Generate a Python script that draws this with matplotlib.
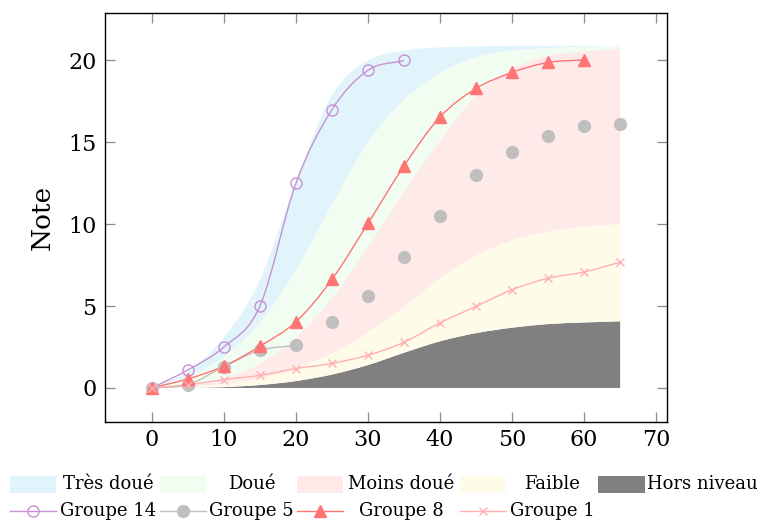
import numpy as np
import matplotlib
matplotlib.use("Agg")
import matplotlib.pyplot as plt
from matplotlib.path import Path
from matplotlib.patches import PathPatch, Rectangle
from matplotlib.lines import Line2D

plt.rcParams['font.family'] = ['DejaVu Serif']

# ---- data -------------------------------------------------------------
weeks = [0, 5, 10, 15, 20, 25, 30, 35, 40, 45, 50, 55, 60, 65]

# upper boundary of each reference band (bands are stacked from the bottom)
band_names = ["Hors niveau", "Faible", "Moins doué", "Doué", "Très doué"]
hors_niveau_top = [0, 0.01, 0.05, 0.18, 0.42, 0.82, 1.4, 2.15, 2.85, 3.35, 3.68, 3.9, 4.0, 4.07]
faible_top      = [0, 0.08, 0.25, 0.55, 1.2, 2.1, 3.4, 4.95, 6.7, 8.1, 9.0, 9.55, 9.85, 10.0]
moins_doue_top  = [0, 0.2, 0.6, 1.5, 3.1, 5.5, 8.6, 12.0, 15.1, 17.9, 19.5, 20.3, 20.55, 20.7]
doue_top        = [0, 0.65, 1.9, 4.0, 7.2, 11.2, 15.0, 17.6, 19.25, 20.2, 20.6, 20.75, 20.85, 20.9]
tres_doue_top   = [0, 1.0, 3.1, 6.6, 12.6, 17.9, 20.0, 20.6, 20.8, 20.85, 20.9, 20.9, 20.9, 20.9]

groupe14 = [0, 1.1, 2.5, 5.0, 12.5, 17.0, 19.4, 20.0]
groupe5 = [0, 0.2, 1.3, 2.3, 2.6, 4.0, 5.6, 8.0, 10.5, 13.0, 14.4, 15.4, 16.0, 16.1]
groupe5_joined = 5          # leading points of Groupe 5 that are joined by a line
groupe8 = [0, 0.55, 1.33, 2.55, 4.04, 6.63, 10.05, 13.56, 16.55, 18.29, 19.27, 19.88, 20.04]
groupe1 = [0, 0.2, 0.51, 0.77, 1.18, 1.5, 2.0, 2.79, 3.98, 4.98, 6.0, 6.7, 7.08, 7.68]

x_ticks = [0, 10, 20, 30, 40, 50, 60, 70]
y_ticks = [0, 5, 10, 15, 20]

# ---- styles -----------------------------------------------------------
band_colors = {
    "Très doué": "#e2f4fb",
    "Doué": "#f1fdf1",
    "Moins doué": "#ffeaea",
    "Faible": "#fffbe9",
    "Hors niveau": "#808080",
}
c14, c5, c8, c1 = "#c691d2", "#bfbfbf", "#ff7474", "#ffb0b0"


def smooth_codes_verts(x, y):
    """Cubic Bezier (Catmull-Rom style) through the given points."""
    p = np.column_stack([x, y]).astype(float)
    n = len(p)
    m = np.zeros_like(p)
    m[0] = p[1] - p[0]
    m[-1] = p[-1] - p[-2]
    m[1:-1] = (p[2:] - p[:-2]) / 2.0
    verts = [p[0]]
    codes = [Path.MOVETO]
    for i in range(n - 1):
        verts += [p[i] + m[i] / 3.0, p[i + 1] - m[i + 1] / 3.0, p[i + 1]]
        codes += [Path.CURVE4] * 3
    return np.array(verts), codes


def band_path(x, lower, upper):
    vu, cu = smooth_codes_verts(x, upper)
    vl, cl = smooth_codes_verts(x[::-1], lower[::-1])
    verts = np.vstack([vu, vl[0:1], vl[1:], vu[0:1]])
    codes = cu + [Path.LINETO] + cl[1:] + [Path.CLOSEPOLY]
    return Path(verts, codes)


def smooth_line(ax, x, y, color, lw=1.0, zorder=3):
    v, c = smooth_codes_verts(x, y)
    ax.add_patch(PathPatch(Path(v, c), facecolor="none", edgecolor=color,
                           lw=lw, zorder=zorder))


fig = plt.figure(figsize=(7.6, 5.21), dpi=100)
ax = fig.add_axes([105 / 760, 1 - 422 / 521, (667 - 105) / 760, (422 - 13) / 521])

x = np.array(weeks, dtype=float)
tops = [hors_niveau_top, faible_top, moins_doue_top, doue_top, tres_doue_top]
lower = np.zeros_like(x)
for name, top in zip(band_names, tops):
    upper = np.array(top, dtype=float)
    ax.add_patch(PathPatch(band_path(x, lower, upper), facecolor=band_colors[name],
                           edgecolor="none", zorder=1))
    lower = upper

# Groupe 14
x14 = x[:len(groupe14)]
smooth_line(ax, x14, groupe14, c14)
ax.plot(x14, groupe14, ls="none", marker="o", ms=8, mfc="none", mec=c14, mew=1.0, zorder=4)

# Groupe 5
smooth_line(ax, x[:groupe5_joined], groupe5[:groupe5_joined], c5)
ax.plot(x, groupe5, ls="none", marker="o", ms=8.5, mfc=c5, mec=c5, zorder=4)

# Groupe 8
x8 = x[:len(groupe8)]
smooth_line(ax, x8, groupe8, c8)
ax.plot(x8, groupe8, ls="none", marker="^", ms=8, mfc=c8, mec=c8, zorder=5)

# Groupe 1
smooth_line(ax, x, groupe1, c1)
ax.plot(x, groupe1, ls="none", marker="x", ms=6, mec=c1, mew=1.0, zorder=5)

ax.set_xlim(-6.5, 71.5)
ax.set_ylim(-2.08, 22.9)
ax.set_xticks(x_ticks)
ax.set_yticks(y_ticks)
ax.tick_params(direction="in", length=7.5, width=0.9, color="#8c8c8c",
               top=True, right=True, labelsize=16, pad=6)
ax.tick_params(axis="x", pad=5)
for s in ax.spines.values():
    s.set_linewidth(1.0)
ax.set_ylabel("Note", fontsize=19, labelpad=10)

# ---- legend (two rows, text centred in its cell) ----------------------
lg = fig.add_axes([0, 0, 1, 1], facecolor="none")
lg.set_xlim(0, 760)
lg.set_ylim(521, 0)
lg.axis("off")

handle_x = [(10, 56), (160, 206), (297, 343), (460, 506), (598, 645)]
text_cx = [108, 251.5, 401.5, 552, 702.5]
row1_y, row2_y = 484, 511
legend_fs = 13

row1 = ["Très doué", "Doué", "Moins doué", "Faible", "Hors niveau"]
for (x0, x1), cx, name in zip(handle_x, text_cx, row1):
    lg.add_patch(Rectangle((x0, row1_y - 8.5), x1 - x0, 17, facecolor=band_colors[name],
                           edgecolor="none"))
    lg.text(cx, row1_y, name, ha="center", va="center", fontsize=legend_fs)

row2 = [("Groupe 14", dict(color=c14, marker="o", ms=8, mfc="none", mec=c14)),
        ("Groupe 5", dict(color=c5, marker="o", ms=8.5, mfc=c5, mec=c5)),
        ("Groupe 8", dict(color=c8, marker="^", ms=8, mfc=c8, mec=c8)),
        ("Groupe 1", dict(color=c1, marker="x", ms=6, mec=c1))]
for (x0, x1), cx, (name, st) in zip(handle_x, text_cx, row2):
    lg.add_line(Line2D([x0, x1], [row2_y, row2_y], lw=1.0, color=st["color"]))
    mk = {k: v for k, v in st.items() if k != "color"}
    lg.add_line(Line2D([(x0 + x1) / 2], [row2_y], ls="none", **mk))
    lg.text(cx, row2_y, name, ha="center", va="center", fontsize=legend_fs)

fig.savefig("out.png", dpi=100)
